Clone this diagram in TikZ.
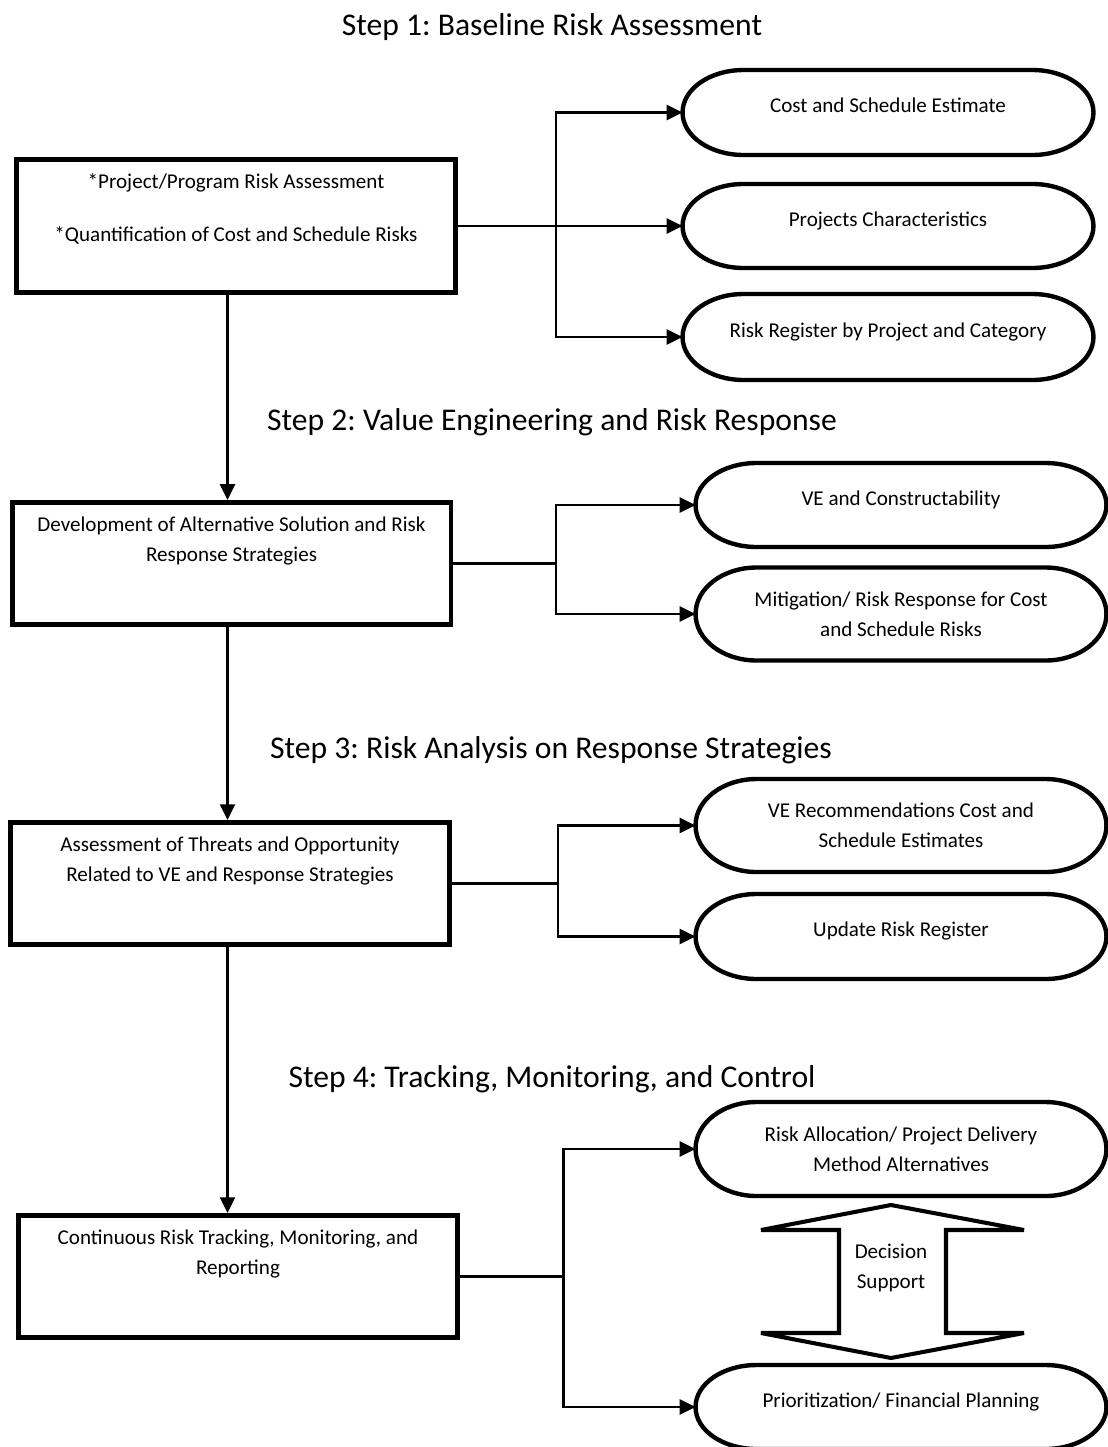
\documentclass[tikz,border=0pt]{standalone}
\usepackage{fontspec}
\setmainfont{Carlito}
\usepackage{tikz}
\usetikzlibrary{positioning, calc, arrows.meta}
\frenchspacing
\tikzset{
	titletext/.style={font=\fontsize{18}{22}\selectfont, anchor=base, inner sep=0pt}
}
\tikzset{
	boxtext/.style={font=\fontsize{12}{17}\selectfont, align=center, inner sep=0pt}
}
\tikzset{
	stepbox/.style={draw, line width=2.8pt, minimum width=8.78cm, inner sep=0pt},
	term/.style={boxtext, minimum width=8.22cm, outer sep=0pt},
	raised/.style={text height=8pt, text depth=8pt},
	termline/.style={line width=2.5pt},
	wire/.style={line width=1.3pt}
}

\begin{document}
\begin{tikzpicture}[x=0.02cm, y=-0.02cm, >={Triangle[length=9pt,width=8.5pt]}]
      \useasboundingbox (0,0) rectangle (1108,1447);
      % step headings
      \node[titletext] (t1) at (552,35) {Step 1: Baseline Risk Assessment};
      \node[titletext] (t2) at (552,430) {Step 2: Value Engineering and Risk Response};
      \node[titletext] (t3) at (551,758) {Step 3: Risk Analysis on Response Strategies};
      \node[titletext] (t4) at (552,1087) {Step 4: Tracking, Monitoring, and Control};
      % left column, one box per step
      \node[stepbox, minimum height=2.66cm] (b1) at (236,226) {};
      \node[boxtext, below=0.33cm of b1.north] (b1t) {*Project/Program Risk Assessment\\[13pt]*Quantification of Cost and Schedule Risks};
      \node[stepbox, minimum height=2.44cm] (b2) at (231.5,563.5) {};
      \node[boxtext, below=0.33cm of b2.north] (b2t) {Development of Alternative Solution and Risk\\Response Strategies};
      \node[stepbox, minimum height=2.44cm] (b3) at (230,883.5) {};
      \node[boxtext, below=0.33cm of b3.north] (b3t) {Assessment of Threats and Opportunity\\Related to VE and Response Strategies};
      \node[stepbox, minimum height=2.44cm] (b4) at (238,1276.5) {};
      \node[boxtext, below=0.33cm of b4.north] (b4t) {Continuous Risk Tracking, Monitoring, and\\Reporting};
      % right column, rounded outputs
      \node[term, raised, minimum height=1.70cm] (cse) at (888,112.5) {Cost and Schedule Estimate};
      \node[term, raised, minimum height=1.68cm] (pch) at (888,226) {Projects Characteristics};
      \node[term, raised, minimum height=1.72cm] (rrg) at (888,337) {Risk Register by Project and Category};
      \node[term, raised, minimum height=1.68cm] (vec) at (901,505) {VE and Constructability};
      \node[term, minimum height=1.86cm] (mit) at (901,614) {Mitigation/ Risk Response for Cost\\and Schedule Risks};
      \node[term, minimum height=1.86cm] (ver) at (901,825.5) {VE Recommendations Cost and\\Schedule Estimates};
      \node[term, raised, minimum height=1.70cm] (urr) at (901,936.5) {Update Risk Register};
      \node[term, minimum height=1.88cm] (ral) at (901,1149) {Risk Allocation/ Project Delivery\\Method Alternatives};
      \node[term, raised, minimum height=1.68cm] (pfp) at (901,1407) {Prioritization/ Financial Planning};
      \foreach \nd in {cse,pch,rrg,vec,mit,ver,urr,ral,pfp}
        \draw[termline] let \p1=(\nd.north west), \p2=(\nd.south east), \n1={(\y1-\y2)/2} in
          (\x1+1.22cm,\y1) -- (\x2-1.22cm,\y1)
          arc[start angle=90, end angle=-90, x radius=1.22cm, y radius=\n1]
          -- (\x1+1.22cm,\y2)
          arc[start angle=270, end angle=90, x radius=1.22cm, y radius=\n1] -- cycle;
      % main flow down the left
      \coordinate (mainx) at (227.5,0);
      \draw[->, wire] (b1.south -| mainx) -- (b2.north -| mainx);
      \draw[->, wire] (b2.south -| mainx) -- (b3.north -| mainx);
      \draw[->, wire] (b3.south -| mainx) -- (b4.north -| mainx);
      % branches to the right
      \coordinate (j1) at (556,0);
      \draw[wire] (b1.east) -- (b1.east -| j1);
      \draw[->, wire] (b1.east -| j1) |- (cse.west);
      \draw[->, wire] (b1.east -| j1) |- (pch.west);
      \draw[->, wire] (b1.east -| j1) |- (rrg.west);
      \coordinate (j2) at (556,0);
      \draw[wire] (b2.east) -- (b2.east -| j2);
      \draw[->, wire] (b2.east -| j2) |- (vec.west);
      \draw[->, wire] (b2.east -| j2) |- (mit.west);
      \coordinate (j3) at (558,0);
      \draw[wire] (b3.east) -- (b3.east -| j3);
      \draw[->, wire] (b3.east -| j3) |- (ver.west);
      \draw[->, wire] (b3.east -| j3) |- (urr.west);
      \coordinate (j4) at (563.5,0);
      \draw[wire] (b4.east) -- (b4.east -| j4);
      \draw[->, wire] (b4.east -| j4) |- (ral.west);
      \draw[->, wire] (b4.east -| j4) |- (pfp.west);
      % decision support double arrow
      \node[boxtext] (ds) at (891,1268) {Decision\\Support};
      \draw[line width=2.3pt] (891,1205) -- (1024,1230) -- (946,1230) -- (946,1333) -- (1024,1333)
        -- (891,1358) -- (761,1333) -- (839,1333) -- (839,1230) -- (761,1230) -- cycle;
    \end{tikzpicture}
\end{document}
